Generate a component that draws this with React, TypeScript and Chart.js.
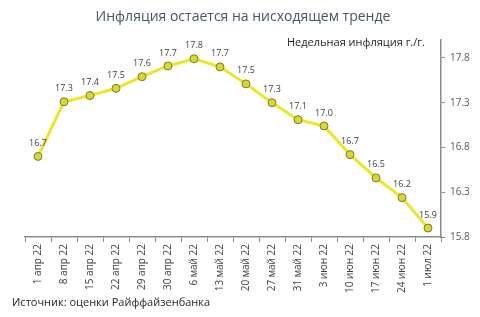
import React, { useEffect, useRef } from "react";
import { Chart, registerables } from "chart.js";

Chart.register(...registerables);

const title = "Инфляция остается на нисходящем тренде";
const seriesName = "Недельная инфляция г./г.";
const source = "Источник: оценки Райффайзенбанка";

const categories = [
  "1 апр 22", "8 апр 22", "15 апр 22", "22 апр 22", "29 апр 22", "30 апр 22",
  "6 май 22", "13 май 22", "20 май 22", "27 май 22", "31 май 22", "3 июн 22",
  "10 июн 22", "17 июн 22", "24 июн 22", "1 июл 22",
];
const inflation = [
  16.70, 17.31, 17.38, 17.46, 17.59, 17.71, 17.79, 17.70,
  17.51, 17.30, 17.11, 17.04, 16.72, 16.46, 16.24, 15.90,
];
const yTicks = [15.8, 16.3, 16.8, 17.3, 17.8];
const yMin = 15.8;
const yMax = 18.0;

const FONT = "'Open Sans', 'DejaVu Sans', sans-serif";

const decorPlugin = {
  id: "decor",
  afterDatasetsDraw(chart: any) {
    const ctx = chart.ctx;
    const meta = chart.getDatasetMeta(0);
    ctx.save();
    ctx.font = `9px ${FONT}`;
    ctx.fillStyle = "#404040";
    ctx.textAlign = "center";
    ctx.textBaseline = "middle";
    meta.data.forEach((pt: any, i: number) => {
      ctx.fillText(inflation[i].toFixed(1), pt.x, pt.y - 13);
    });
    ctx.restore();
  },
  afterDraw(chart: any) {
    const ctx = chart.ctx;
    ctx.save();
    ctx.textBaseline = "middle";
    ctx.textAlign = "center";
    ctx.font = `14px ${FONT}`;
    ctx.fillStyle = "#44546a";
    ctx.fillText(title, 243, 17);
    ctx.textAlign = "left";
    ctx.font = `11px ${FONT}`;
    ctx.fillStyle = "#262626";
    ctx.fillText(seriesName, 287, 43);
    ctx.fillText(source, 12, 303);
    ctx.restore();
  },
};

export default function App() {
  const ref = useRef<HTMLCanvasElement>(null);
  useEffect(() => {
    if (!ref.current) return;
    const chart = new Chart(ref.current, {
      type: "line",
      data: {
        labels: categories,
        datasets: [
          {
            label: seriesName,
            data: inflation,
            borderColor: "#ede52a",
            borderWidth: 3,
            pointRadius: 4,
            pointBackgroundColor: "#d6d83a",
            pointBorderColor: "#7d7a22",
            pointBorderWidth: 1,
            tension: 0,
          },
        ],
      },
      options: {
        animation: false,
        responsive: false,
        layout: { padding: { left: 25, top: 40, right: 0, bottom: 0 } },
        plugins: { legend: { display: false }, tooltip: { enabled: false } },
        scales: {
          x: {
            offset: true,
            grid: {
              offset: true,
              drawOnChartArea: false,
              drawTicks: true,
              tickLength: 5,
              color: "#8c8c8c",
            },
            border: { color: "#8c8c8c", width: 1.5 },
            ticks: {
              minRotation: 90,
              maxRotation: 90,
              autoSkip: false,
              padding: 2,
              color: "#404040",
              font: { size: 10, family: FONT },
            },
            afterFit(scale: any) {
              scale.height = 80;
            },
          },
          y: {
            position: "right",
            min: yMin,
            max: yMax,
            afterBuildTicks(scale: any) {
              scale.ticks = yTicks.map((v) => ({ value: v }));
            },
            grid: {
              drawOnChartArea: false,
              drawTicks: true,
              tickLength: 4,
              color: "#8c8c8c",
            },
            border: { color: "#8c8c8c", width: 1.5 },
            ticks: {
              padding: 5,
              color: "#595959",
              font: { size: 10, family: FONT },
              callback: (v: any) => Number(v).toFixed(1),
            },
            afterFit(scale: any) {
              scale.width = 39;
            },
          },
        },
      },
      plugins: [decorPlugin],
    });
    return () => chart.destroy();
  }, []);
  return (
    <div style={{ position: "fixed", left: 0, top: 0, width: 480, height: 317, background: "#fff" }}>
      <canvas ref={ref} width={480} height={317} />
    </div>
  );
}
